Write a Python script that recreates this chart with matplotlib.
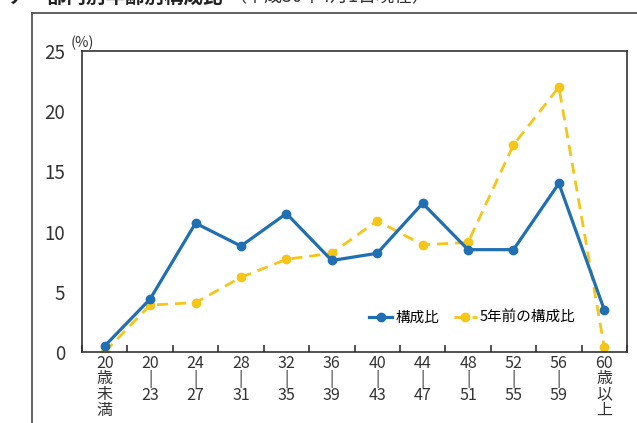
import matplotlib
matplotlib.use("Agg")
import matplotlib.pyplot as plt
from matplotlib.lines import Line2D
import numpy as np

plt.rcParams['font.family'] = ['Noto Sans CJK JP', 'DejaVu Sans']

categories = ["20\n歳\n未\n満", "20\n|\n23", "24\n|\n27", "28\n|\n31", "32\n|\n35",
              "36\n|\n39", "40\n|\n43", "44\n|\n47", "48\n|\n51", "52\n|\n55",
              "56\n|\n59", "60\n歳\n以\n上"]
current = [0.5, 4.4, 10.7, 8.8, 11.5, 7.6, 8.2, 12.35, 8.5, 8.5, 14.0, 3.5]
five_years_ago = [0.0, 3.9, 4.1, 6.2, 7.7, 8.2, 10.9, 8.9, 9.1, 17.2, 22.0, 0.4]
yticks = [0, 5, 10, 15, 20, 25]
label_current = "構成比"
label_prev = "5年前の構成比"
title = "ア　部門別年齢別構成比"
subtitle = "（平成30年4月1日現在）"

blue = "#1f6fb2"
yellow = "#f5c518"

fig = plt.figure(figsize=(6.37, 4.23), dpi=100)
ax = fig.add_axes([82/637, 1-352/423, (627-82)/637, (352-51)/423])

x = np.arange(len(categories))
ax.plot(x, current, color=blue, lw=2.3, marker='o', ms=6, label=label_current, zorder=3)
ax.plot(x, five_years_ago, color=yellow, lw=2.0, ls=(0, (4, 2.5)), marker='o', ms=6,
        label=label_prev, zorder=2)

ax.set_xlim(-0.5, len(categories) - 0.5)
ax.set_ylim(0, 25)
ax.set_yticks(yticks)
ax.set_yticklabels([str(v) for v in yticks], fontsize=13.5, color="#333333")
ax.tick_params(axis='y', length=0, pad=12)

ax.set_xticks(x)
ax.set_xticklabels(categories, fontsize=11.5, color="#333333", linespacing=0.9, va='top')
ax.tick_params(axis='x', which='major', length=0, pad=2)
ax.set_xticks(np.arange(-0.5, len(categories) + 0.5, 1), minor=True)
ax.tick_params(axis='x', which='minor', direction='in', length=5, width=1.2, color="#333333")

for s in ax.spines.values():
    s.set_color("#333333")
    s.set_linewidth(1.2)

fig.text(71/637, 1-50/423, "(%)", fontsize=10.5, color="#333333", ha='left', va='bottom')

leg = ax.legend(loc='center', bbox_to_anchor=(0.716, 0.113), ncol=2, frameon=False,
                fontsize=10.5, handlelength=1.6, handletextpad=0.2, columnspacing=1.0)

# outer frame
fig.add_artist(Line2D([32/637, 32/637], [0, 1-13/423], color="#555555", lw=1.3,
                      transform=fig.transFigure))
fig.add_artist(Line2D([32/637, 1], [1-13/423, 1-13/423], color="#555555", lw=1.3,
                      transform=fig.transFigure))

# cut-off title (only its lower part shows, as in the reference)
fig.text(8/637, 1 + 3/423, title, fontsize=14, fontweight='bold', ha='left', va='center', color="#222222")
fig.text(228/637, 1 + 3/423, subtitle, fontsize=13, ha='left', va='center', color="#333333")

fig.savefig("out.png", dpi=100)
